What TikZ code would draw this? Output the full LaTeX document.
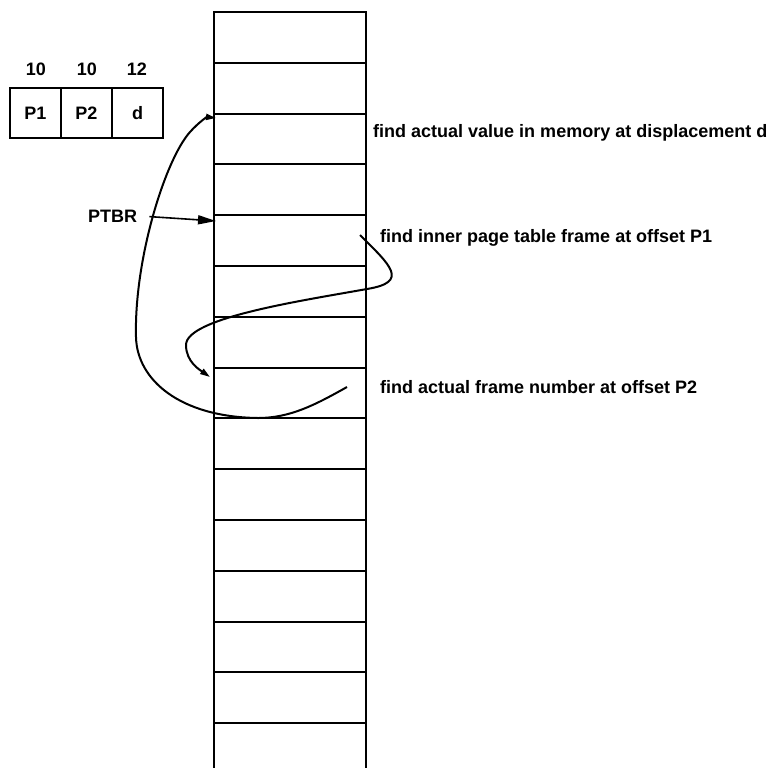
\documentclass[tikz,border=0pt]{standalone}
\usepackage{fontspec}
\setmainfont{Liberation Sans}
\usetikzlibrary{arrows.meta,positioning}
\newcommand{\lblfont}{\bfseries\fontsize{18}{21}\selectfont}

\begin{document}
\begin{tikzpicture}[x=1pt,y=-1pt,
  cell/.style={draw,line width=2pt,minimum width=152pt,minimum height=50.8pt,
    inner sep=0pt,outer sep=0pt},
  reg/.style={cell,minimum width=51pt,minimum height=50pt,font=\lblfont},
  lbl/.style={font=\lblfont,inner sep=0pt,anchor=base west},
  bits/.style={font=\lblfont,inner sep=0pt,anchor=base},
  arr/.style={-{Triangle[length=18pt,width=9pt]},line width=1.6pt},
  hop/.style={-{Triangle[length=10pt,width=6pt]},line width=2pt}
]
  \useasboundingbox (0,0) rectangle (775,768);

  % logical address: bit widths and fields
  \node[reg] (r1) at (35.5,113) {P1};
  \node[reg] (r2) [right=0pt of r1] {P2};
  \node[reg] (r3) [right=0pt of r2] {d};
  \node[bits] (b1) at (36,75)  {10};
  \node[bits] (b2) at (87,75)  {10};
  \node[bits] (b3) at (137,75) {12};

  % memory column, one frame per cell
  \node[cell] (m1) at (290,37.4) {};
  \node[cell] (m2)  [below=0pt of m1]  {};
  \node[cell] (m3)  [below=0pt of m2]  {};
  \node[cell] (m4)  [below=0pt of m3]  {};
  \node[cell] (m5)  [below=0pt of m4]  {};
  \node[cell] (m6)  [below=0pt of m5]  {};
  \node[cell] (m7)  [below=0pt of m6]  {};
  \node[cell] (m8)  [below=0pt of m7]  {};
  \node[cell] (m9)  [below=0pt of m8]  {};
  \node[cell] (m10) [below=0pt of m9]  {};
  \node[cell] (m11) [below=0pt of m10] {};
  \node[cell] (m12) [below=0pt of m11] {};
  \node[cell] (m13) [below=0pt of m12] {};
  \node[cell] (m14) [below=0pt of m13] {};
  % last cell runs off the page
  \coordinate (bot-l) at (214,768);
  \coordinate (bot-r) at (366,768);
  \draw[line width=2pt] (m14.south west) -- (bot-l);
  \draw[line width=2pt] (m14.south east) -- (bot-r);

  % labels
  \node[lbl] (ptbr) at (88,222)  {PTBR};
  \node[lbl] (t-d)  at (373,137) {find actual value in memory at displacement d};
  \node[lbl] (t-p1) at (380,242) {find inner page table frame at offset P1};
  \node[lbl] (t-p2) at (380,393) {find actual frame number at offset P2};

  % page table base register
  \coordinate (ptbr-in) at (216,221);
  \draw[arr,shorten <=12pt] (ptbr.east) -- (ptbr-in);

  % P1 -> inner page table
  \coordinate (p1-out) at (360,235);
  \coordinate (p1-in)  at (210,377);
  \draw[hop] (p1-out) .. controls (390,265) and (410,282) .. (367,289)
    .. controls (300,301) and (186,318) .. (186,345)
    .. controls (186,362) and (200,370) .. (p1-in);

  % P2 -> frame holding the value
  \coordinate (p2-out) at (347,387);
  \coordinate (d-in)   at (216,118);
  \draw[hop] (p2-out) .. controls (315,405) and (290,418) .. (258,418)
    .. controls (180,417) and (137,380) .. (136,337)
    .. controls (134,260) and (165,160) .. (190,132)
    .. controls (199,122) and (207,117) .. (d-in);
\end{tikzpicture}
\end{document}
